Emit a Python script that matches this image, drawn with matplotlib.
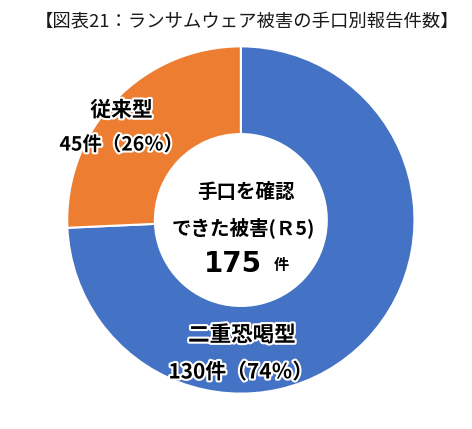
import matplotlib
matplotlib.use("Agg")
import matplotlib.pyplot as plt
import matplotlib.patheffects as pe

plt.rcParams['font.family'] = ['Noto Sans CJK JP', 'DejaVu Sans']

title = "【図表21：ランサムウェア被害の手口別報告件数】"
categories = ["二重恐喝型", "従来型"]
counts = [130, 45]
percents = [74, 26]
colors = ["#4472C4", "#ED7D31"]
center_lines = ["手口を確認", "できた被害(Ｒ5)"]
total = 175

W, H = 472, 429
fig = plt.figure(figsize=(W / 100, H / 100), dpi=100)
ax = fig.add_axes([0, 0, 1, 1])
yscale = 0.97
ax.set_xlim(0, W)
ax.set_ylim(0, H / yscale)
ax.set_aspect('auto')
ax.axis('off')

cx, cy_px, r = 241, 220, 179
ax.pie(counts, colors=colors, startangle=90, counterclock=False,
       center=(cx, (H - cy_px) / yscale), radius=r,
       wedgeprops=dict(width=r * 0.505, edgecolor='white', linewidth=1.5),
       frame=True)
ax.set_xlim(0, W)
ax.set_ylim(0, H / yscale)
ax.axis('off')


def px(x, y):
    return x / W, 1 - y / H


halo = [pe.withStroke(linewidth=3, foreground='white')]

ax.text(*px(247, 22), title, transform=ax.transAxes, ha='center', va='center',
        fontsize=13.2, color='#1a1a1a')

# labels
ax.text(*px(118, 110), categories[1], transform=ax.transAxes, ha='center', va='center',
        fontsize=15, fontweight='bold', color='black', path_effects=halo)
ax.text(*px(118, 145), f"{counts[1]}件（{percents[1]}％）", transform=ax.transAxes,
        ha='center', va='center', fontsize=14, fontweight='bold', color='black',
        path_effects=halo)
ax.text(*px(242, 335), categories[0], transform=ax.transAxes, ha='center', va='center',
        fontsize=15.5, fontweight='bold', color='black', path_effects=halo)
ax.text(*px(241, 372), f"{counts[0]}件（{percents[0]}％）", transform=ax.transAxes,
        ha='center', va='center', fontsize=15, fontweight='bold', color='black',
        path_effects=halo)

# center
ax.text(*px(246, 192), center_lines[0], transform=ax.transAxes, ha='center', va='center',
        fontsize=14, fontweight='bold', color='black')
ax.text(*px(244, 228), center_lines[1], transform=ax.transAxes, ha='center', va='center',
        fontsize=14, fontweight='bold', color='black')
ax.text(*px(233, 264), str(total), transform=ax.transAxes, ha='center', va='center',
        fontsize=20, fontweight='bold', color='black', family='DejaVu Sans')
ax.text(*px(283, 265), "件", transform=ax.transAxes, ha='center', va='center',
        fontsize=11, fontweight='bold', color='black')

fig.savefig("out.png", dpi=100, facecolor='white')
